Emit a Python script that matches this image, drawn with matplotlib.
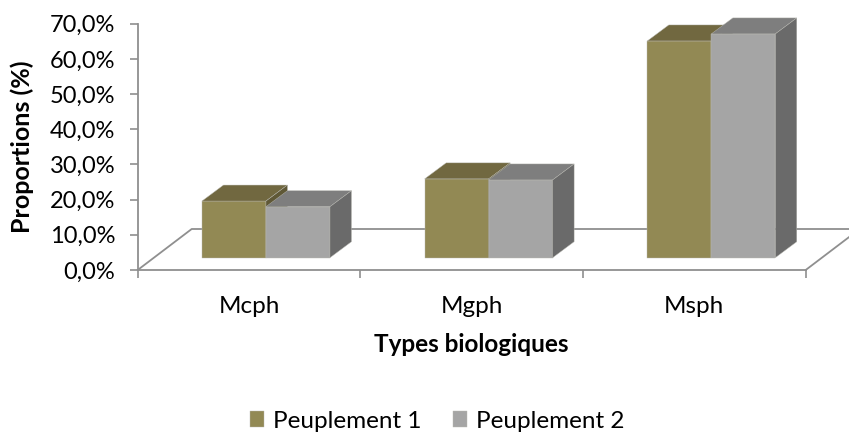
import matplotlib
matplotlib.use("Agg")
import matplotlib.pyplot as plt
from matplotlib.patches import Polygon
import numpy as np

categories = ["Mcph", "Mgph", "Msph"]
peuplement_1 = [16.1, 22.4, 61.6]
peuplement_2 = [14.5, 22.1, 63.6]
y_ticks = [0, 10, 20, 30, 40, 50, 60, 70]
x_label = "Types biologiques"
y_label = "Proportions (%)"

W, H = 849, 432
LINE = "#8f8f8f"
EDGE = "#b9b9b2"
plt.rcParams["font.family"] = ["Lato", "DejaVu Sans"]

fig = plt.figure(figsize=(W / 100, H / 100), dpi=100)
left, right, top, bottom = 137.7, 805.7, 23.7, 270.0
ax = fig.add_axes([left / W, 1 - bottom / H, (right - left) / W, (bottom - top) / H])
ax.set_xlim(0, 3)
ax.set_ylim(0, 70)

# pixel sizes converted to data units
px_x = 3 / (right - left)
px_y = 70 / (bottom - top)
bar_w = 64 * px_x
base = 12.3 * px_y
bar_dx, bar_dy = 21.5 * px_x, 16 * px_y
floor_dx, floor_dy = 54 * px_x, 41 * px_y
centers = np.arange(3) + 0.576


def draw_series(xs, values, front, roof, side, label, z):
    bars = ax.bar(xs, values, bar_w, bottom=base, color=front, edgecolor=EDGE,
                  linewidth=0.3, label=label, zorder=z, clip_on=False)
    for x, v in zip(xs, values):
        x0, x1, y1 = x - bar_w / 2, x + bar_w / 2, base + v
        ax.add_patch(Polygon([(x0, y1), (x1, y1), (x1 + bar_dx, y1 + bar_dy), (x0 + bar_dx, y1 + bar_dy)],
                             facecolor=roof, edgecolor=EDGE, linewidth=0.3, zorder=z, clip_on=False))
        ax.add_patch(Polygon([(x1, base), (x1, y1), (x1 + bar_dx, y1 + bar_dy), (x1 + bar_dx, base + bar_dy)],
                             facecolor=side, edgecolor=EDGE, linewidth=0.3, zorder=z, clip_on=False))
    return bars


# floor of the 3d box
ax.plot([0, floor_dx, 3 + floor_dx], [0, floor_dy, floor_dy], color=LINE, lw=1.3, zorder=1, clip_on=False)
ax.plot([3, 3 + floor_dx], [0, floor_dy], color=LINE, lw=1.3, zorder=1, clip_on=False)

draw_series(centers - bar_w / 2, peuplement_1, "#928954", "#716840", "#5f5836", "Peuplement 1", 3)
draw_series(centers + bar_w / 2, peuplement_2, "#a5a5a5", "#7e7e7e", "#6a6a6a", "Peuplement 2", 4)

for s in ["top", "right"]:
    ax.spines[s].set_visible(False)
for s in ["left", "bottom"]:
    ax.spines[s].set_color(LINE)
    ax.spines[s].set_linewidth(1.3)

ax.set_yticks(y_ticks)
ax.set_yticklabels(["%d,0%%" % t for t in y_ticks], fontsize=17, color="black")
ax.set_xticks([0, 1, 2, 3])
ax.set_xticklabels([])
ax.set_xticks(np.arange(3) + 0.5, categories, minor=True, fontsize=17.5)
ax.tick_params(axis="y", length=6, width=1.2, color=LINE, pad=10)
ax.tick_params(axis="x", which="major", length=6, width=1.2, color=LINE)
ax.tick_params(axis="x", which="minor", length=0, pad=19)

fig.text(471 / W, 1 - 345 / H, x_label, fontsize=17.5, fontweight="bold", ha="center", va="center")
fig.text(22 / W, 1 - 147 / H, y_label, fontsize=18, fontweight="bold", rotation=90, ha="center", va="center")

fig.legend(loc="center", bbox_to_anchor=(437 / W, 1 - 421 / H), ncol=2, frameon=False, fontsize=17.5,
           handlelength=0.6, handleheight=0.6, handletextpad=0.35, columnspacing=1.3)

fig.savefig("out.png", dpi=100)
